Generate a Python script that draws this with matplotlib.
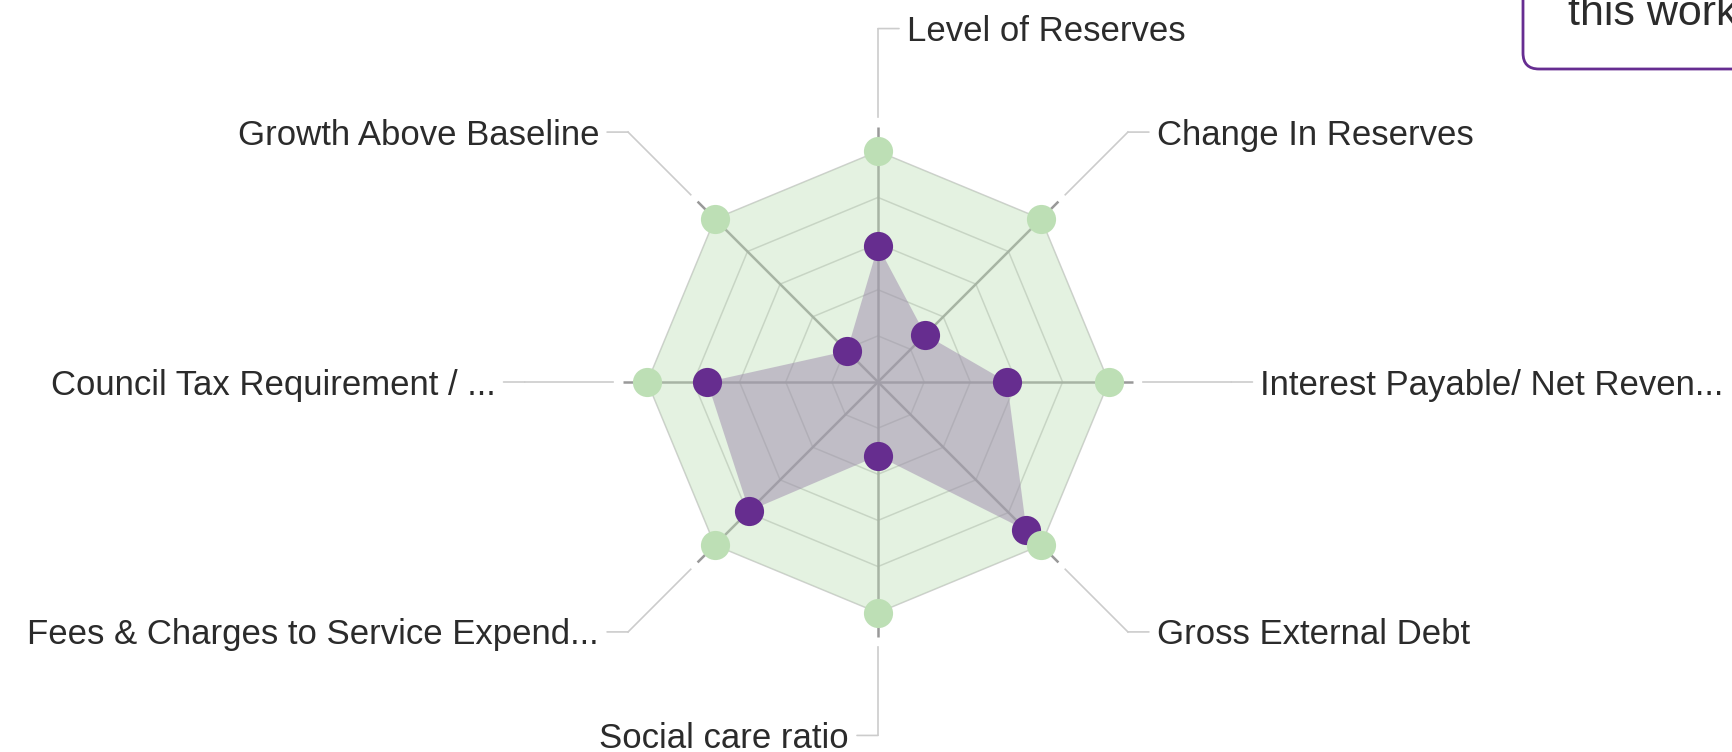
import numpy as np
import matplotlib
matplotlib.use('Agg')
import matplotlib.pyplot as plt
from matplotlib.patches import FancyBboxPatch
from matplotlib.transforms import IdentityTransform

categories = ["Level of Reserves", "Change In Reserves", "Interest Payable/ Net Reven...",
              "Gross External Debt", "Social care ratio", "Fees & Charges to Service Expend...",
              "Council Tax Requirement / ...", "Growth Above Baseline"]
benchmark = [5, 5, 5, 5, 5, 5, 5, 5]
council = [2.95, 1.45, 2.8, 4.55, 1.6, 3.95, 3.7, 0.95]
levels = [1, 2, 3, 4, 5]

plt.rcParams['font.family'] = ['Liberation Sans', 'DejaVu Sans']

W, H, DPI = 1732, 752, 100
fig = plt.figure(figsize=(W / DPI, H / DPI), dpi=DPI)
fig.patch.set_facecolor('white')

cx, cy = 878, H - 382
r_view = 7.7
unit = 46.14
half = r_view * unit
ax = fig.add_axes([(cx - half) / W, (cy - half) / H, 2 * half / W, 2 * half / H],
                  projection='polar')
ax.set_theta_zero_location('N')
ax.set_theta_direction(-1)
ax.set_ylim(0, r_view)
ax.grid(False)
ax.set_xticks([])
ax.set_yticks([])
ax.spines['polar'].set_visible(False)
ax.patch.set_visible(False)

n = len(categories)
theta = np.arange(n) * 2 * np.pi / n
theta_c = np.append(theta, theta[0])

# rings
for lv in levels:
    ax.plot(theta_c, [lv] * (n + 1), color='#cfcfcf', lw=1.1, zorder=1)
# spokes
for t in theta:
    ax.plot([t, t], [0, 5.53], color='#999999', lw=1.8, zorder=1, solid_capstyle='butt')

# series fills
bench_c = np.append(benchmark, benchmark[0])
coun_c = np.append(council, council[0])
ax.fill(theta_c, bench_c, color='#bddfb5', alpha=0.4, lw=0, zorder=2)
ax.fill(theta_c, coun_c, color='#9d8aac', alpha=0.5, lw=0, zorder=3)
ax.plot(theta, council, 'o', ms=21, color='#662d8f', mec='none', zorder=4)
ax.plot(theta, benchmark, 'o', ms=21, color='#bddfb5', mec='none', zorder=5)

# label connectors and labels
for t, lab in zip(theta, categories):
    sgn = 1 if t < np.pi - 1e-9 else -1
    ax.plot([t, t], [5.74, 7.66], color='#cccccc', lw=1.2, clip_on=False, zorder=1)
    ax.annotate('', xy=(t, 7.66), xytext=(sgn * 21, 0), textcoords='offset pixels',
                arrowprops=dict(arrowstyle='-', color='#cccccc', lw=1.2, shrinkA=0, shrinkB=0),
                annotation_clip=False)
    ax.annotate(lab, xy=(t, 7.66), xytext=(sgn * 29, -12.5), textcoords='offset pixels',
                ha='left' if sgn > 0 else 'right', va='baseline', fontsize=25,
                color='#2b2b2b', annotation_clip=False)

# top-right box (partially visible)
box = FancyBboxPatch((1523, H - 69), 300, 200, boxstyle='round,pad=0,rounding_size=16',
                     transform=IdentityTransform(), facecolor='white', edgecolor='#662d91',
                     lw=2.0, zorder=10)
fig.add_artist(box)
fig.text(1568 / W, (H - 25) / H, 'this work', fontsize=31, ha='left', va='baseline',
         color='#2b2b2b', zorder=11)

fig.savefig('out.png', dpi=DPI)
